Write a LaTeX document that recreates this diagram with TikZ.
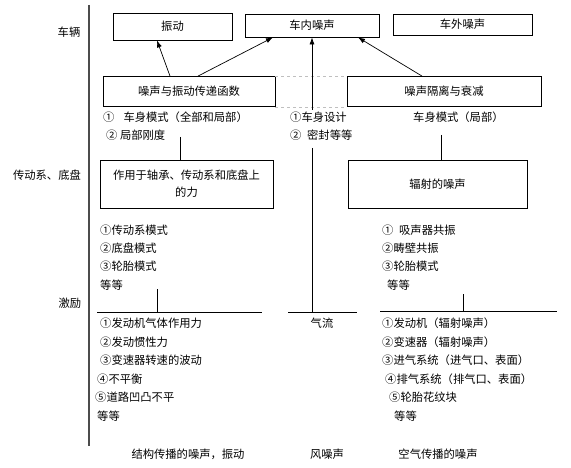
\documentclass[tikz,border=0pt]{standalone}
\usepackage{fontspec}
\setmainfont{Noto Sans CJK SC}
\usetikzlibrary{arrows.meta}
\begin{document}
\begin{tikzpicture}[x=1pt,y=-1pt,
  font=\fontsize{11.3}{17}\selectfont,
  box/.style={draw, line width=0.8pt, inner sep=0pt, align=center},
  arr/.style={-{Latex[length=7pt,width=5pt]}, line width=0.7pt},
  ln/.style={line width=0.8pt},
  lbl/.style={anchor=west, inner sep=0pt},
  cl/.style={inner sep=0pt},
  dsh/.style={dashed, gray!50, line width=0.6pt}]
\useasboundingbox (0,0) rectangle (571,468);
% left axis
\draw[line width=1.3pt, gray!60!black] (89,5) -- (89,446);
\node[cl] (r1) at (69,32) {车辆};
\node[cl] (r2) at (47,175) {传动系、底盘};
\node[cl] (r3) at (70,303) {激励};
% boxes
\node[box, minimum width=119pt, minimum height=27pt] (vib) at (172.5,26.5) {振动};
\node[box, minimum width=134pt, minimum height=23pt] (in) at (312,25.5) {车内噪声};
\node[box, minimum width=139pt, minimum height=21pt] (out) at (462.5,24.5) {车外噪声};
\node[box, minimum width=172pt, minimum height=30pt] (tf) at (189,91.5) {噪声与振动传递函数};
\node[box, minimum width=194pt, minimum height=30pt] (iso) at (444,91.5) {噪声隔离与衰减};
\node[box, minimum width=173pt, minimum height=48pt] (force) at (186.5,184) {作用于轴承、传动系和底盘上\\的力};
\node[box, minimum width=179pt, minimum height=48pt] (rad) at (437.5,184) {辐射的噪声};
% dashed links
\draw[dsh] (tf.north east) -- (iso.north west);
\draw[dsh] (tf.south east) -- (iso.south west);
% arrows
\draw[arr] ([xshift=-19pt]tf.north) -- ([xshift=-15.5pt]vib.south);
\draw[arr] ([xshift=9pt]tf.north) -- ([xshift=-39pt]in.south);
\coordinate (bd) at (312,110);
\draw[arr] (bd) -- (in.south);
\draw[arr] ([xshift=-22pt]iso.north) -- ([xshift=46pt]in.south);
% texts row 1
\node[lbl] (t1) at (103,117) {①\hspace{0.8em}车身模式（全部和局部）};
\node[lbl] (t2) at (106,135) {② 局部刚度};
\node[lbl] (t3) at (290,117) {①车身设计};
\node[lbl] (t4) at (290,135) {②\hspace{0.5em}密封等等};
\node[lbl] (t5) at (413,117) {车身模式（局部）};
% connectors to second row
\coordinate (c1) at (180,137);
\draw[ln] (c1) -- ([xshift=-6.5pt]force.north);
\coordinate (c2) at (441,135);
\draw[ln] (c2) -- ([xshift=3.5pt]rad.north);
\coordinate (m1) at (312,148);
\coordinate (m2) at (312,312);
\draw[ln] (m1) -- (m2);
% texts row 2
\node[lbl] (u1) at (100,230) {①传动系模式};
\node[lbl] (u2) at (100,248) {②底盘模式};
\node[lbl] (u3) at (100,266) {③轮胎模式};
\node[lbl] (u4) at (100,285) {等等};
\node[lbl] (v1) at (382,230) {①\hspace{0.5em}吸声器共振};
\node[lbl] (v2) at (382,248) {②畴壁共振};
\node[lbl] (v3) at (382,266) {③轮胎模式};
\node[lbl] (v4) at (387,285) {等等};
% excitation lines
\coordinate (l1) at (157,289);
\coordinate (l2) at (157,312);
\draw[ln] (l1) -- (l2);
\coordinate (h1) at (97,312);
\coordinate (h2) at (262,312);
\draw[ln] (h1) -- (h2);
\coordinate (g1) at (288,312);
\coordinate (g2) at (357,312);
\draw[ln] (g1) -- (g2);
\coordinate (k1) at (463,294);
\coordinate (k2) at (463,311);
\draw[ln] (k1) -- (k2);
\coordinate (j1) at (380,311);
\coordinate (j2) at (557,311);
\draw[ln] (j1) -- (j2);
% texts row 3
\node[lbl] (w1) at (100,323) {①发动机气体作用力};
\node[lbl] (w2) at (100,342) {②发动惯性力};
\node[lbl] (w3) at (100,360) {③变速器转速的波动};
\node[lbl] (w4) at (97,379) {④不平衡};
\node[lbl] (w5) at (95,397) {⑤道路凹凸不平};
\node[lbl] (w6) at (97,416) {等等};
\node[cl] (air) at (322,323) {气流};
\node[lbl] (x1) at (382,323) {①发动机（辐射噪声）};
\node[lbl] (x2) at (382,342) {②变速器（辐射噪声）};
\node[lbl] (x3) at (382,360) {③进气系统（进气口、表面）};
\node[lbl] (x4) at (385,379) {④排气系统（排气口、表面）};
\node[lbl] (x5) at (389,397) {⑤轮胎花纹块};
\node[lbl] (x6) at (394,416) {等等};
% bottom labels
\node[cl] (b1) at (188,454) {结构传播的噪声，振动};
\node[cl] (b2) at (327,454) {风噪声};
\node[cl] (b3) at (438,454) {空气传播的噪声};
\end{tikzpicture}
\end{document}
